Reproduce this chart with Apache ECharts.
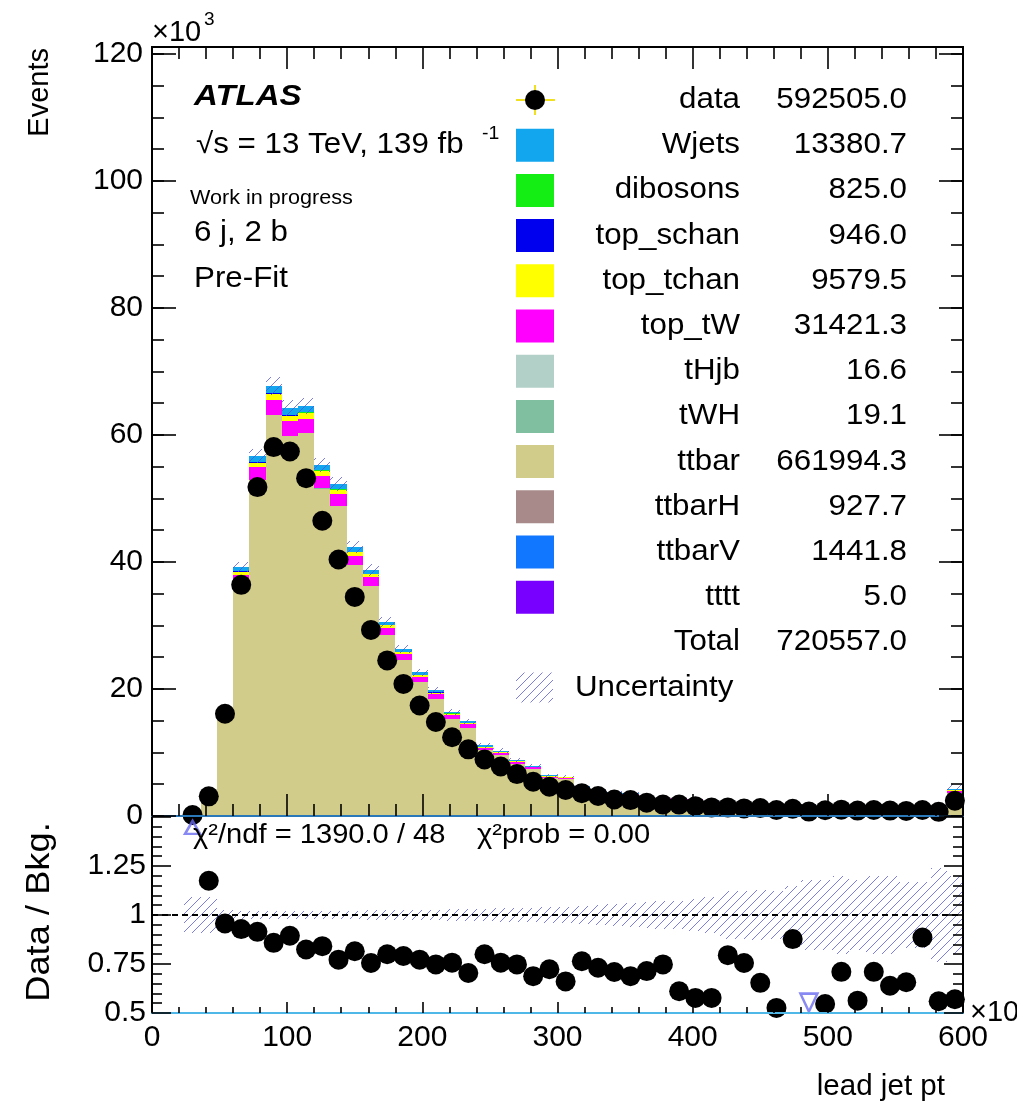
<!DOCTYPE html>
<html>
<head>
<meta charset="utf-8">
<script src="https://cdn.jsdelivr.net/npm/echarts@6/dist/echarts.min.js"></script>
<style>
html, body { margin: 0; padding: 0; background: #ffffff; }
#chart { width: 1017px; height: 1108px; }
</style>
</head>
<body>
<div id="chart"></div>
<script>
// ---- binning: 50 bins of 12 (x10^3) from 0 to 600 ----
const binCenters = [
  6, 18, 30, 42, 54, 66, 78, 90, 102, 114,
  126, 138, 150, 162, 174, 186, 198, 210, 222, 234,
  246, 258, 270, 282, 294, 306, 318, 330, 342, 354,
  366, 378, 390, 402, 414, 426, 438, 450, 462, 474,
  486, 498, 510, 522, 534, 546, 558, 570, 582, 594
];

// ---- observed events per bin (x10^3) ----
const dataEvents = [
  null, null, 0.15, 3.1, 16.1, 36.4, 51.8, 58.1, 57.4, 53.2,
  46.5, 40.4, 34.5, 29.3, 24.5, 20.8, 17.4, 14.8, 12.4, 10.5,
  8.9, 7.8, 6.6, 5.4, 4.6, 4.1, 3.6, 3.15, 2.6, 2.5,
  2.1, 1.8, 1.8, 1.55, 1.35, 1.35, 1.2, 1.25, 0.95, 1.15,
  0.7, 0.9, 1.0, 0.85, 0.95, 0.85, 0.8, 0.95, 0.65, 2.4
];

// ---- background predictions per bin (x10^3) ----
const ttbar = [
  0, 0, 0.046, 2.43, 15.61, 36.43, 52.69, 62.92, 59.67, 60.03,
  51.39, 48.60, 39.31, 36.06, 28.44, 24.44, 21.01, 18.40, 15.25, 13.85,
  10.32, 9.58, 8.18, 7.35, 5.95, 5.77, 4.36, 3.99, 3.44, 3.34,
  2.69, 2.23, 2.69, 2.50, 2.19, 1.58, 1.48, 1.77, 1.68, 1.20,
  1.48, 1.53, 1.30, 1.40, 1.25, 1.25, 1.11, 1.03, 1.08, 3.65
];
const topTW = [
  0, 0, 0.002, 0.09, 0.60, 1.41, 2.04, 2.44, 2.31, 2.33,
  1.99, 1.88, 1.52, 1.40, 1.10, 0.95, 0.81, 0.71, 0.59, 0.54,
  0.40, 0.37, 0.32, 0.28, 0.23, 0.22, 0.17, 0.15, 0.13, 0.13,
  0.10, 0.09, 0.10, 0.10, 0.08, 0.06, 0.06, 0.07, 0.06, 0.05,
  0.06, 0.06, 0.05, 0.05, 0.05, 0.05, 0.04, 0.04, 0.04, 0.35
];
const topTchan = [
  0, 0, 0.001, 0.03, 0.22, 0.51, 0.74, 0.88, 0.83, 0.84,
  0.72, 0.68, 0.55, 0.50, 0.40, 0.34, 0.29, 0.26, 0.21, 0.19,
  0.14, 0.13, 0.11, 0.10, 0.08, 0.08, 0.06, 0.06, 0.05, 0.05,
  0.04, 0.03, 0.04, 0.04, 0.03, 0.02, 0.02, 0.02, 0.02, 0.02,
  0.02, 0.02, 0.02, 0.02, 0.02, 0.02, 0.02, 0.01, 0.01, 0.06
];
const wjets = [
  0, 0, 0.001, 0.04, 0.27, 0.63, 0.91, 1.08, 1.03, 1.03,
  0.88, 0.84, 0.68, 0.62, 0.49, 0.42, 0.36, 0.32, 0.26, 0.24,
  0.18, 0.16, 0.14, 0.13, 0.10, 0.10, 0.08, 0.07, 0.06, 0.06,
  0.05, 0.04, 0.05, 0.04, 0.04, 0.03, 0.03, 0.03, 0.03, 0.02,
  0.03, 0.03, 0.02, 0.02, 0.02, 0.02, 0.02, 0.02, 0.02, 0.12
];
const ttbarV = [
  0, 0, 0, 0.005, 0.034, 0.078, 0.113, 0.135, 0.128, 0.129,
  0.111, 0.105, 0.085, 0.078, 0.061, 0.053, 0.045, 0.040, 0.033, 0.030,
  0.022, 0.021, 0.018, 0.016, 0.013, 0.012, 0.009, 0.009, 0.007, 0.007,
  0.006, 0.005, 0.006, 0.005, 0.005, 0.003, 0.003, 0.004, 0.004, 0.003,
  0.003, 0.003, 0.003, 0.003, 0.003, 0.003, 0.002, 0.002, 0.002, 0.008
];
const ttbarH = [
  0, 0, 0, 0.003, 0.022, 0.051, 0.074, 0.088, 0.083, 0.084,
  0.072, 0.068, 0.055, 0.050, 0.040, 0.034, 0.029, 0.026, 0.021, 0.019,
  0.014, 0.013, 0.011, 0.010, 0.008, 0.008, 0.006, 0.006, 0.005, 0.005,
  0.004, 0.003, 0.004, 0.004, 0.003, 0.002, 0.002, 0.002, 0.002, 0.002,
  0.002, 0.002, 0.002, 0.002, 0.002, 0.002, 0.002, 0.001, 0.001, 0.005
];
const topSchan = [
  0, 0, 0, 0.004, 0.024, 0.054, 0.076, 0.089, 0.082, 0.082,
  0.070, 0.066, 0.053, 0.048, 0.038, 0.033, 0.028, 0.025, 0.020, 0.018,
  0.014, 0.013, 0.011, 0.010, 0.008, 0.008, 0.006, 0.006, 0.005, 0.005,
  0.004, 0.003, 0.004, 0.004, 0.003, 0.002, 0.002, 0.002, 0.002, 0.002,
  0.002, 0.002, 0.002, 0.002, 0.002, 0.002, 0.002, 0.001, 0.001, 0.005
];
const dibosons = [
  0, 0, 0, 0.003, 0.018, 0.043, 0.062, 0.074, 0.071, 0.071,
  0.061, 0.058, 0.047, 0.043, 0.034, 0.029, 0.025, 0.022, 0.018, 0.016,
  0.012, 0.011, 0.010, 0.009, 0.007, 0.007, 0.005, 0.005, 0.004, 0.004,
  0.003, 0.003, 0.003, 0.003, 0.003, 0.002, 0.002, 0.002, 0.002, 0.001,
  0.002, 0.002, 0.002, 0.002, 0.001, 0.001, 0.001, 0.001, 0.001, 0.005
];
const tWH = [
  0, 0, 0, 0, 0.0001, 0.0005, 0.0012, 0.0017, 0.0019, 0.0020,
  0.0018, 0.0017, 0.0015, 0.0013, 0.0011, 0.0009, 0.0008, 0.0007, 0.0006, 0.0005,
  0.0004, 0.0004, 0.0003, 0.0003, 0.0002, 0.0002, 0.0002, 0.0002, 0.0001, 0.0001,
  0.0001, 0.0001, 0.0001, 0.0001, 0.0001, 0, 0, 0, 0, 0,
  0, 0, 0, 0, 0, 0, 0, 0, 0, 0.0001
];
const tHjb = [
  0, 0, 0, 0, 0.0001, 0.0004, 0.0010, 0.0015, 0.0017, 0.0018,
  0.0016, 0.0015, 0.0013, 0.0012, 0.0010, 0.0008, 0.0007, 0.0006, 0.0005, 0.0004,
  0.0004, 0.0003, 0.0003, 0.0002, 0.0002, 0.0002, 0.0001, 0.0001, 0.0001, 0.0001,
  0.0001, 0.0001, 0.0001, 0.0001, 0.0001, 0, 0, 0, 0, 0,
  0, 0, 0, 0, 0, 0, 0, 0, 0, 0.0001
];
const tttt = [
  0, 0, 0, 0, 0, 0.0001, 0.0002, 0.0004, 0.0005, 0.0005,
  0.0005, 0.0004, 0.0004, 0.0003, 0.0003, 0.0003, 0.0002, 0.0002, 0.0002, 0.0001,
  0.0001, 0.0001, 0.0001, 0.0001, 0.0001, 0, 0, 0, 0, 0,
  0, 0, 0, 0, 0, 0, 0, 0, 0, 0,
  0, 0, 0, 0, 0, 0, 0, 0, 0, 0
];

// ---- data / background ratio and its relative uncertainty ----
const ratio = [
  null, null, 3.0, 1.175, 0.957, 0.928, 0.914, 0.858, 0.894, 0.824,
  0.841, 0.772, 0.815, 0.755, 0.80, 0.791, 0.772, 0.748, 0.757, 0.704,
  0.80, 0.757, 0.748, 0.688, 0.723, 0.661, 0.764, 0.731, 0.709, 0.688,
  0.714, 0.748, 0.611, 0.577, 0.577, 0.795, 0.755, 0.654, 0.526, 0.877,
  0.44, 0.546, 0.71, 0.563, 0.71, 0.639, 0.657, 0.885, 0.56, 0.57
];
const ratioUnc = [
  null, null, 0.09, 0.09, 0.025, 0.02, 0.02, 0.02, 0.02, 0.02,
  0.02, 0.022, 0.022, 0.024, 0.025, 0.025, 0.027, 0.028, 0.03, 0.03,
  0.032, 0.034, 0.035, 0.037, 0.04, 0.042, 0.045, 0.05, 0.055, 0.06,
  0.065, 0.07, 0.07, 0.08, 0.09, 0.12, 0.12, 0.13, 0.12, 0.15,
  0.18, 0.18, 0.2, 0.18, 0.2, 0.2, 0.17, 0.17, 0.24, 0.2
];

// ---- legend entries (name, integrated yield) ----
const legendNames = ['Wjets', 'dibosons', 'top_schan', 'top_tchan', 'top_tW', 'tHjb', 'tWH', 'ttbar', 'ttbarH', 'ttbarV', 'tttt'];
const legendYields = [13380.7, 825.0, 946.0, 9579.5, 31421.3, 16.6, 19.1, 661994.3, 927.7, 1441.8, 5.0];
const dataYield = 592505.0;
const totalYield = 720557.0;

// ---- axis tick values ----
const xTicks = [0, 100, 200, 300, 400, 500, 600];
const mainYTicks = [0, 20, 40, 60, 80, 100, 120];
const ratioYTicks = [0.5, 0.75, 1, 1.25];

const colors = {
  Wjets: '#12a6ee', dibosons: '#14ee14', top_schan: '#0000ee', top_tchan: '#ffff00',
  top_tW: '#ff00ff', tHjb: '#b2d0c8', tWH: '#80c0a0', ttbar: '#d2cc8a',
  ttbarH: '#a88a8a', ttbarV: '#1177ff', tttt: '#7700ff'
};
const valuesByName = {
  Wjets: wjets, dibosons: dibosons, top_schan: topSchan, top_tchan: topTchan,
  top_tW: topTW, tHjb: tHjb, tWH: tWH, ttbar: ttbar, ttbarH: ttbarH, ttbarV: ttbarV, tttt: tttt
};
// stacking order, bottom first
const stackOrder = ['tttt', 'ttbarV', 'ttbarH', 'ttbar', 'tWH', 'tHjb', 'top_tW', 'top_tchan', 'top_schan', 'dibosons', 'Wjets'];

const FONT = "'Liberation Sans', Arial, Helvetica, sans-serif";

// diagonal hatch pattern for the uncertainty bands
const hatch = (function () {
  const s = 9;
  const cv = document.createElement('canvas');
  cv.width = s; cv.height = s;
  const g = cv.getContext('2d');
  g.strokeStyle = 'rgba(80,80,215,0.75)';
  g.lineWidth = 1;
  g.beginPath();
  g.moveTo(0, s); g.lineTo(s, 0);
  g.moveTo(-2, 2); g.lineTo(2, -2);
  g.moveTo(s - 2, s + 2); g.lineTo(s + 2, s - 2);
  g.stroke();
  return { image: cv, repeat: 'repeat' };
})();

// one filled rectangle per bin, snapped to whole pixels so neighbours join cleanly
function binRect(fill) {
  return function (params, api) {
    const i = api.value(0);
    const top = api.coord([i, api.value(2)]);
    const bot = api.coord([i, api.value(1)]);
    const w = api.size([1, 0])[0];
    const x0 = Math.round(top[0] - w / 2), x1 = Math.round(top[0] + w / 2);
    const y0 = Math.round(top[1]), y1 = Math.round(bot[1]);
    if (y1 - y0 <= 0) return null;
    return { type: 'rect', shape: { x: x0, y: y0, width: x1 - x0, height: y1 - y0 }, style: { fill: fill } };
  };
}

// build stacked layers
const cum = binCenters.map(() => 0);
const stackSeries = stackOrder.map(name => {
  const vals = valuesByName[name];
  const items = [];
  vals.forEach((v, i) => {
    const lo = cum[i];
    cum[i] += v;
    if (v > 0) items.push([i, lo, cum[i]]);
  });
  return {
    type: 'custom', name: name, xAxisIndex: 0, yAxisIndex: 0,
    renderItem: binRect(colors[name]), data: items,
    encode: { x: 0, y: [1, 2] }, z: 2, silent: true
  };
});
const mcTotal = cum.slice();

const mainBand = [];
mcTotal.forEach((t, i) => {
  const u = ratioUnc[i];
  if (t > 0 && u != null) mainBand.push([i, t * (1 - u), t * (1 + u)]);
});
const ratioBand = [];
ratioUnc.forEach((u, i) => { if (u != null) ratioBand.push([i, 1 - u, 1 + u]); });

const dataPoints = [];
dataEvents.forEach((v, i) => { if (v != null) dataPoints.push([i, v]); });

const RMIN = 0.5, RMAX = 1.5;
const ratioIn = [], ratioHigh = [], ratioLow = [];
ratio.forEach((v, i) => {
  if (v == null) return;
  if (v > RMAX) ratioHigh.push([i, RMAX - 0.053]);
  else if (v < RMIN) ratioLow.push([i, RMIN + 0.053]);
  else ratioIn.push([i, v]);
});

const black = '#000000';
const tickStyle = { color: black, width: 1.6 };

function valueXAxis(grid, pos, showLabels, major, minor, lineColor) {
  return {
    type: 'value', gridIndex: grid, position: pos, min: 0, max: 600, interval: 100, z: 10,
    axisLine: { show: true, onZero: false, lineStyle: { color: lineColor, width: 2 } },
    axisTick: { show: true, inside: true, length: major, lineStyle: tickStyle },
    minorTick: { show: true, splitNumber: 5, length: minor, lineStyle: tickStyle },
    splitLine: { show: false },
    axisLabel: {
      show: showLabels, margin: 10, fontSize: 30, fontFamily: FONT, color: black,
      formatter: v => (xTicks.indexOf(v) >= 0 ? String(v) : '')
    }
  };
}
function categoryXAxis(grid) {
  return { type: 'category', gridIndex: grid, data: binCenters, show: false, boundaryGap: true };
}

const MAIN_MAX = 121.1;
function mainYAxis(pos, withLabels, interval, len) {
  return {
    type: 'value', gridIndex: 0, position: pos, min: 0, max: MAIN_MAX, interval: interval, z: 10,
    axisLine: { show: true, onZero: false, lineStyle: { color: black, width: 2 } },
    axisTick: { show: true, inside: true, length: len, lineStyle: tickStyle },
    splitLine: { show: false },
    axisLabel: {
      show: withLabels, margin: 9, fontSize: 30, fontFamily: FONT, color: black,
      formatter: v => (mainYTicks.indexOf(v) >= 0 ? String(v) : '')
    }
  };
}
function ratioYAxis(pos, withLabels) {
  return {
    type: 'value', gridIndex: 1, position: pos, min: RMIN, max: RMAX, interval: 0.25, z: 10,
    axisLine: { show: true, onZero: false, lineStyle: { color: black, width: 2 } },
    axisTick: { show: true, inside: true, length: 19, lineStyle: tickStyle },
    minorTick: { show: true, splitNumber: 5, length: 10, lineStyle: tickStyle },
    splitLine: { show: false },
    axisLabel: {
      show: withLabels, margin: 6, fontSize: 30, fontFamily: FONT, color: black,
      formatter: v => (ratioYTicks.indexOf(v) >= 0 ? String(v) : '')
    }
  };
}

// ---- text and legend drawn as graphic elements ----
const graphics = [];
function txt(x, y, text, size, opts) {
  opts = opts || {};
  graphics.push({
    type: 'text', x: x, y: y, rotation: opts.rotation || 0, scaleX: opts.stretch || 1.08, z: 100,
    style: {
      text: text, fill: black, fontSize: size, fontFamily: FONT,
      fontWeight: opts.weight || 'normal', fontStyle: opts.style || 'normal',
      align: opts.align || 'left', verticalAlign: opts.valign || 'middle'
    }
  });
}
txt(194, 97, 'ATLAS', 30, { weight: 'bold', style: 'italic', stretch: 1.1 });
txt(196, 145, '\u221As = 13 TeV, 139 fb', 29);
txt(482, 134, '-1', 18);
txt(190, 198, 'Work in progress', 20);
txt(194, 233, '6 j, 2 b', 29);
txt(194, 279, 'Pre-Fit', 29);
txt(152, 33, '\u00D710', 29, { stretch: 1 });
txt(204, 20, '3', 19, { stretch: 1 });
txt(40, 48, 'Events', 29, { rotation: Math.PI / 2, align: 'right', stretch: 1 });
txt(40, 912, 'Data / Bkg.', 33, { rotation: Math.PI / 2, align: 'center', stretch: 1.1 });
txt(945, 1087, 'lead jet pt', 29, { align: 'right', stretch: 1.02 });
txt(970, 1013, '\u00D710\u00B3', 29, { stretch: 1 });
txt(193, 835, '\u03C7\u00B2/ndf = 1390.0 / 48', 28, { stretch: 1.04 });
txt(477, 835, '\u03C7\u00B2prob = 0.00', 28, { stretch: 1.04 });

const rowY = k => 100 + 45.2 * k;
// data entry: marker with error-bar cross
graphics.push({ type: 'line', z: 100, shape: { x1: 516, y1: rowY(0), x2: 555, y2: rowY(0) }, style: { stroke: '#f0e020', lineWidth: 2 } });
graphics.push({ type: 'line', z: 100, shape: { x1: 535, y1: rowY(0) - 15, x2: 535, y2: rowY(0) + 15 }, style: { stroke: '#f0e020', lineWidth: 2 } });
graphics.push({ type: 'circle', z: 101, shape: { cx: 535, cy: rowY(0), r: 10 }, style: { fill: black } });
txt(740, rowY(0), 'data', 29, { align: 'right' });
txt(907, rowY(0), dataYield.toFixed(1), 29, { align: 'right' });
legendNames.forEach((name, k) => {
  const y = rowY(k + 1);
  graphics.push({ type: 'rect', z: 100, shape: { x: 516, y: y - 16.5, width: 38, height: 33 }, style: { fill: colors[name] } });
  txt(740, y, name, 29, { align: 'right' });
  txt(907, y, legendYields[k].toFixed(1), 29, { align: 'right' });
});
txt(740, rowY(12), 'Total', 29, { align: 'right' });
txt(907, rowY(12), totalYield.toFixed(1), 29, { align: 'right' });
graphics.push({ type: 'rect', z: 100, shape: { x: 516, y: rowY(13) - 15, width: 37, height: 30 }, style: { fill: hatch } });
txt(575, rowY(13), 'Uncertainty', 29);

const option = {
  animation: false,
  backgroundColor: '#ffffff',
  grid: [
    { left: 152, right: 54, top: 47, height: 769, outerBoundsMode: 'none', containLabel: false },
    { left: 152, right: 54, top: 817, height: 196, outerBoundsMode: 'none', containLabel: false }
  ],
  xAxis: [
    categoryXAxis(0),
    valueXAxis(0, 'bottom', false, 22, 12, '#2a78b8'),
    valueXAxis(0, 'top', false, 22, 12, black),
    categoryXAxis(1),
    valueXAxis(1, 'bottom', true, 11, 6, '#4fb8e8')
  ],
  yAxis: [
    mainYAxis('left', true, 20, 24),
    mainYAxis('left', false, 5, 12),
    mainYAxis('right', false, 20, 24),
    mainYAxis('right', false, 5, 12),
    ratioYAxis('left', true),
    ratioYAxis('right', false)
  ],
  graphic: graphics,
  series: stackSeries.concat([
    {
      type: 'custom', name: 'Uncertainty', xAxisIndex: 0, yAxisIndex: 0,
      renderItem: binRect(hatch), data: mainBand, encode: { x: 0, y: [1, 2] }, z: 3, silent: true
    },
    {
      type: 'scatter', name: 'data', xAxisIndex: 0, yAxisIndex: 0, data: dataPoints,
      symbol: 'circle', symbolSize: 20, itemStyle: { color: black, opacity: 1 }, z: 5, silent: true, clip: false
    },
    {
      type: 'custom', name: 'ratioUnc', xAxisIndex: 3, yAxisIndex: 4,
      renderItem: binRect(hatch), data: ratioBand, encode: { x: 0, y: [1, 2] }, z: 3, silent: true
    },
    {
      type: 'scatter', name: 'ratio', xAxisIndex: 3, yAxisIndex: 4, data: ratioIn,
      symbol: 'circle', symbolSize: 20, itemStyle: { color: black, opacity: 1 }, z: 5, silent: true, clip: false,
      markLine: {
        silent: true, symbol: 'none', label: { show: false },
        lineStyle: { color: black, type: [6, 4], width: 2 },
        data: [{ yAxis: 1 }]
      }
    },
    {
      type: 'scatter', name: 'ratioHigh', xAxisIndex: 3, yAxisIndex: 4, data: ratioHigh,
      symbol: 'triangle', symbolSize: [15, 13], z: 5, silent: true, clip: false,
      itemStyle: { color: 'rgba(0,0,0,0)', borderColor: '#6c6cf0', borderWidth: 2.5 }
    },
    {
      type: 'scatter', name: 'ratioLow', xAxisIndex: 3, yAxisIndex: 4, data: ratioLow,
      symbol: 'triangle', symbolRotate: 180, symbolSize: [17, 18], z: 5, silent: true, clip: false,
      itemStyle: { color: 'rgba(0,0,0,0)', borderColor: '#6c6cf0', borderWidth: 2.5 }
    }
  ])
};

const chart = echarts.init(document.getElementById('chart'), null, { renderer: 'canvas' });
chart.setOption(option);
</script>
</body>
</html>
